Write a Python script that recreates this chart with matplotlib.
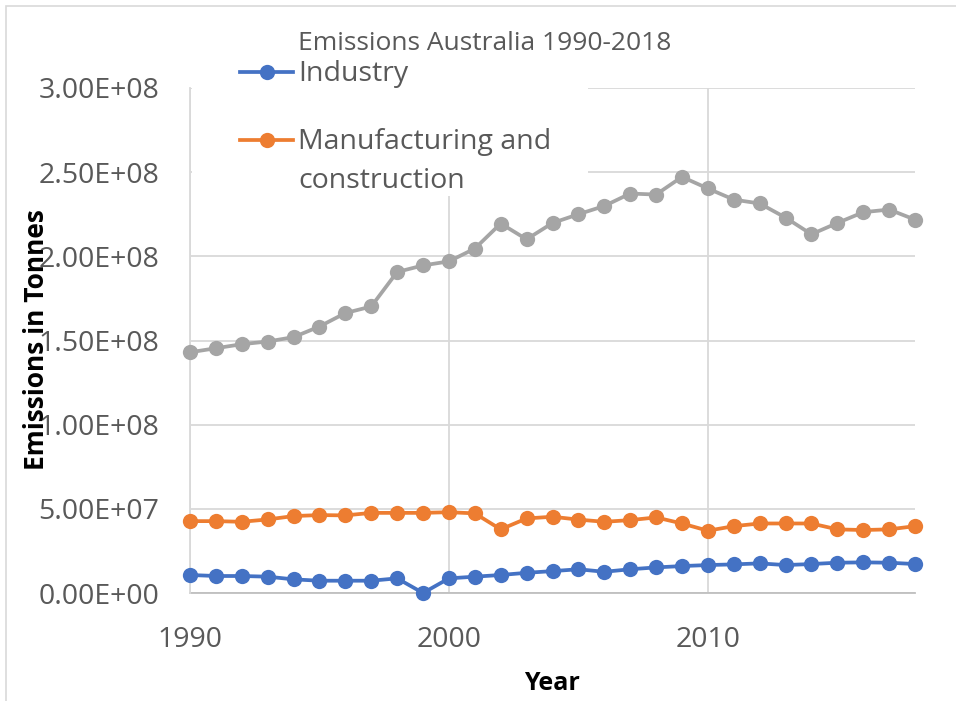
import matplotlib
matplotlib.use("Agg")
import matplotlib.pyplot as plt
from matplotlib.lines import Line2D
from matplotlib.patches import Rectangle
from matplotlib.ticker import FuncFormatter, MultipleLocator

plt.rcParams['font.family'] = ['Open Sans', 'DejaVu Sans']

years = list(range(1990, 2019))

industry = [1.07e7, 1.01e7, 1.01e7, 0.97e7, 0.81e7, 0.73e7, 0.73e7, 0.73e7, 0.87e7, 0.0,
            0.87e7, 0.97e7, 1.07e7, 1.20e7, 1.30e7, 1.41e7, 1.26e7, 1.41e7, 1.52e7, 1.60e7,
            1.66e7, 1.70e7, 1.76e7, 1.66e7, 1.72e7, 1.80e7, 1.82e7, 1.80e7, 1.72e7]

manufacturing = [4.27e7, 4.27e7, 4.23e7, 4.37e7, 4.57e7, 4.63e7, 4.61e7, 4.76e7, 4.76e7, 4.76e7,
                 4.80e7, 4.73e7, 3.78e7, 4.43e7, 4.53e7, 4.36e7, 4.23e7, 4.33e7, 4.49e7, 4.13e7,
                 3.70e7, 3.97e7, 4.13e7, 4.13e7, 4.13e7, 3.78e7, 3.74e7, 3.78e7, 3.97e7]

total = [1.430e8, 1.454e8, 1.478e8, 1.494e8, 1.520e8, 1.583e8, 1.663e8, 1.702e8, 1.907e8, 1.946e8,
         1.970e8, 2.046e8, 2.195e8, 2.101e8, 2.198e8, 2.250e8, 2.299e8, 2.373e8, 2.367e8, 2.472e8,
         2.403e8, 2.337e8, 2.314e8, 2.230e8, 2.131e8, 2.198e8, 2.262e8, 2.278e8, 2.218e8]

series_labels = ["Industry", "Manufacturing and\nconstruction"]
colors = ["#4472C4", "#ED7D31", "#A5A5A5"]
x_ticks = [1990, 2000, 2010]

W, H = 956, 701
fig = plt.figure(figsize=(W / 100, H / 100), dpi=100)

def fx(px):
    return px / W

def fy(py):
    return 1 - py / H

# chart-area border (top and left edges)
fig.add_artist(Rectangle((fx(6), fy(H + 20)), fx(W + 20), fy(5.5) - fy(H + 20),
                         transform=fig.transFigure, fill=False,
                         edgecolor="#d9d9d9", linewidth=1.2))

ax = fig.add_axes([fx(190), fy(593), fx(915) - fx(190), fy(88) - fy(593)])

for vals, c in zip([industry, manufacturing, total], colors):
    ax.plot(years, vals, color=c, linewidth=2.7, marker="o", markersize=11,
            markeredgewidth=0, solid_capstyle="round", clip_on=False, zorder=3)

ax.set_xlim(1990, 2018)
ax.set_ylim(0, 3e8)
ax.set_xticks(x_ticks)
ax.yaxis.set_major_locator(MultipleLocator(5e7))
ax.yaxis.set_major_formatter(FuncFormatter(lambda v, p: f"{v:.2E}"))
ax.grid(True, color="#d9d9d9", linewidth=1.3)
ax.set_axisbelow(True)
ax.tick_params(length=0, labelsize=20.5, labelcolor="#595959")
ax.tick_params(axis="y", pad=22)
ax.tick_params(axis="x", pad=24)
for s in ["top", "right"]:
    ax.spines[s].set_visible(False)
ax.spines["left"].set_color("#d9d9d9")
ax.spines["left"].set_linewidth(1.3)
ax.spines["bottom"].set_color("#bfbfbf")
ax.spines["bottom"].set_linewidth(1.3)
ax.spines["left"].set_zorder(2.6)

# legend panel
fig.add_artist(Rectangle((fx(192), fy(196)), fx(588) - fx(192), fy(60) - fy(196),
                         transform=fig.transFigure, facecolor="white",
                         edgecolor="none", zorder=2.5))

legend_y = [72, 140]
for lab, c, ly in zip(series_labels, colors, legend_y):
    fig.add_artist(Line2D([fx(240), fx(293)], [fy(ly), fy(ly)], color=c, linewidth=2.7,
                          transform=fig.transFigure, zorder=4))
    fig.add_artist(Line2D([fx(266.5)], [fy(ly)], color=c, marker="o", markersize=11,
                          markeredgewidth=0, transform=fig.transFigure, zorder=4))
    fig.text(fx(298), fy(ly - 12), lab, color="#595959", fontsize=20.5, va="top",
             ha="left", linespacing=1.5, zorder=4)

fig.text(fx(485), fy(43), "Emissions Australia 1990-2018", color="#595959",
         fontsize=19, ha="center", va="center", zorder=5)
fig.text(fx(552), fy(683), "Year", color="black", fontsize=18, fontweight="bold",
         ha="center", va="center")
fig.text(fx(37), fy(340), "Emissions in Tonnes", color="black", fontsize=19,
         fontweight="bold", ha="center", va="center", rotation=90)

fig.savefig("out.png", dpi=100, facecolor="white")
